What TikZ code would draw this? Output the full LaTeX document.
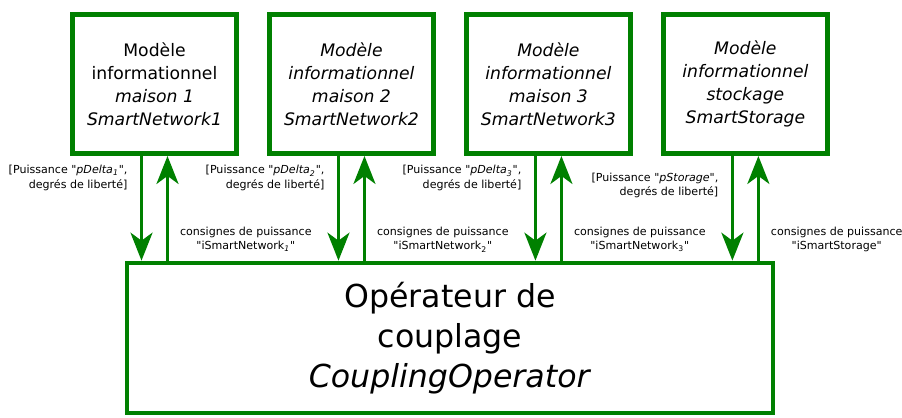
\documentclass[tikz,border=0pt]{standalone}
\usepackage{fontspec}
\setmainfont{DejaVu Sans}[Ligatures=TeXOff]
\usetikzlibrary{arrows.meta}
\definecolor{vert}{RGB}{0,128,0}

\begin{document}
\begin{tikzpicture}[x=0.02cm, y=-0.02cm, node distance=3.94cm,
 model/.style={draw=vert, line width=2.8pt, minimum width=3.28cm, minimum height=2.78cm,
   align=center, font=\fontsize{9.8}{13}\selectfont},
 operator/.style={draw=vert, line width=2.7pt, minimum width=12.92cm, minimum height=3cm,
   align=center, font=\fontsize{18}{22.8}\selectfont},
 flow/.style={draw=vert, line width=1.8pt, -{Stealth[length=0.56cm, width=0.44cm, inset=0.16cm]}},
 lab/.style={font=\fontsize{6.3}{8}\selectfont, inner sep=0pt}]

 \useasboundingbox (0,0) rectangle (902,417);

 \node[model] (m1) at (154.5,84) {Modèle\\informationnel\\\textit{maison 1}\\\textit{SmartNetwork1}};
 \node[model] (m2) [right of=m1] {\textit{Modèle}\\\textit{informationnel}\\\textit{maison 2}\\\textit{SmartNetwork2}};
 \node[model] (m3) [right of=m2] {\textit{Modèle}\\\textit{informationnel}\\\textit{maison 3}\\\textit{SmartNetwork3}};
 \node[model] (m4) [right of=m3] {\textit{Modèle}\\\textit{informationnel}\\\textit{stockage}\\\textit{SmartStorage}};
 \node[operator] (op) at (450,338) {Opérateur de\\couplage\\\textit{CouplingOperator}};

 % flux montants et descendants
 \foreach \m/\pa/\ps/\is in {m1/0.21/pDelta\textsubscript{1}/iSmartNetwork\textsubscript{\textit{1}},
   m2/0.21/pDelta\textsubscript{2}/iSmartNetwork\textsubscript{2},
   m3/0.21/pDelta\textsubscript{3}/iSmartNetwork\textsubscript{3},
   m4/0.28/pStorage/iSmartStorage} {
   \draw[flow] ([xshift=-0.26cm]\m.south) -- ([xshift=-0.26cm]\m.south |- op.north)
     node[lab, pos=\pa, left=0.25cm, align=right] {[Puissance "\textit{\ps}",\\degrés de liberté]};
   \draw[flow] ([xshift=0.26cm]\m.south |- op.north) -- ([xshift=0.26cm]\m.south)
     node[lab, pos=0.2, right=0.22cm, align=center] {consignes de puissance\\"\is"};
 }
\end{tikzpicture}
\end{document}
